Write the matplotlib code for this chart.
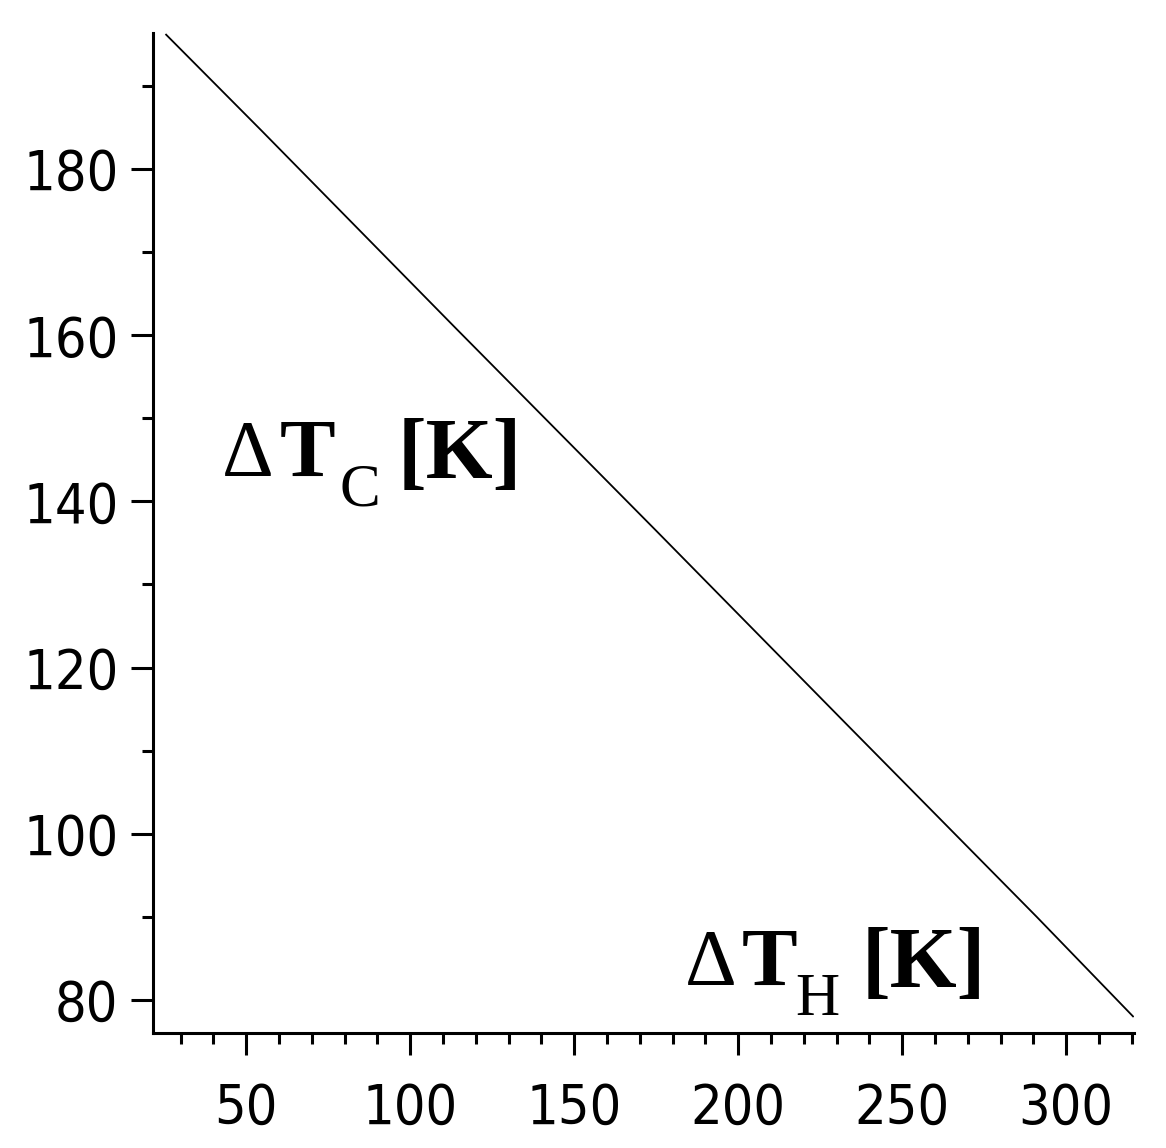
import matplotlib.pyplot as plt
from matplotlib.ticker import MultipleLocator

# values (Delta T_H vs Delta T_C, in K)
dT_H = [25.6, 54.8, 114.3, 174.7, 233.5, 291.0, 320.4]
dT_C = [196.2, 184.6, 160.7, 136.6, 113.0, 90.0, 78.0]

x_ticks = [50, 100, 150, 200, 250, 300]
y_ticks = [80, 100, 120, 140, 160, 180]

W, H = 1166, 1148
fig = plt.figure(figsize=(W / 100, H / 100), dpi=100)
ax = fig.add_axes([153 / W, 1 - 1033 / H, (1134 - 153) / W, 1000 / H])

ax.plot(dT_H, dT_C, color='black', linewidth=1.3)

ax.set_xlim(21.6, 320.7)
ax.set_ylim(76.0, 196.4)
ax.set_xticks(x_ticks)
ax.set_yticks(y_ticks)
ax.xaxis.set_minor_locator(MultipleLocator(10))
ax.yaxis.set_minor_locator(MultipleLocator(10))

for side in ['top', 'right']:
    ax.spines[side].set_visible(False)
for side in ['left', 'bottom']:
    ax.spines[side].set_linewidth(2.2)

ax.tick_params(which='major', length=16, width=2.2, direction='out')
ax.tick_params(which='minor', length=8, width=2.2, direction='out')
ax.tick_params(axis='x', which='major', pad=19)
ax.tick_params(axis='y', which='major', pad=9)
for lab in ax.get_xticklabels() + ax.get_yticklabels():
    lab.set_family('DejaVu Sans')
    lab.set_stretch('condensed')
    lab.set_fontsize(40)

# axis labels drawn inside the plot, pieces placed in pixel positions
serif = 'Liberation Serif'
def piece(x, y, s, size, weight):
    fig.text(x / W, 1 - y / H, s, fontsize=size, family=serif,
             fontweight=weight, va='baseline', ha='left')

piece(222, 476, '\u0394', 58, 'normal')
piece(280, 476, 'T', 60, 'bold')
piece(340, 505, 'C', 44, 'normal')
piece(398, 478, '[K]', 62, 'bold')

piece(685, 985, '\u0394', 58, 'normal')
piece(742, 985, 'T', 60, 'bold')
piece(795, 1015, 'H', 44, 'normal')
piece(862, 987, '[K]', 62, 'bold')

fig.savefig('out.png', dpi=100)
